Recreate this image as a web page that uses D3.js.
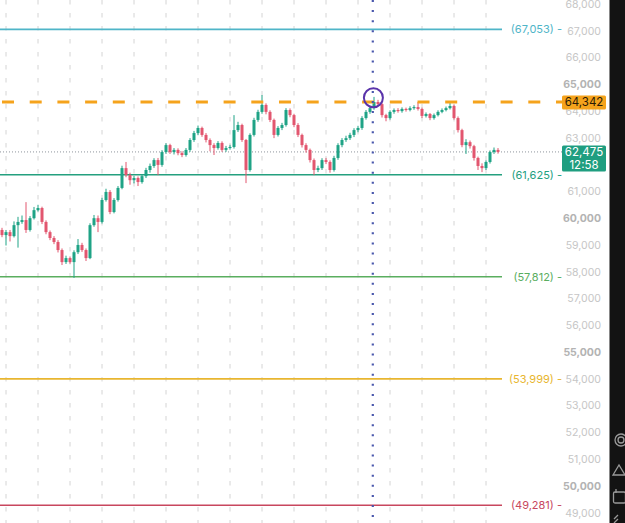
<!DOCTYPE html>
<html lang="en">
<head>
<meta charset="UTF-8">
<title>BTC price levels</title>
<script src="https://cdn.jsdelivr.net/npm/d3@7"></script>
<style>
  body { margin: 0; background: #fff; font-family: Inter, "Noto Sans", Arial, sans-serif; }
  svg { display: block; }
</style>
</head>
<body>
<svg width="625" height="523"></svg>
<script>
// candles (open of each candle = previous close)
var firstOpen = 59560;
var closes = [59370,59480,59330,59740,59860,59930,59560,60000,60300,60380,
  59860,59480,59260,59110,58810,58360,58510,58360,58730,59000,
  58810,58510,59740,60000,59860,60680,60980,60230,60680,61130,
  61870,61610,61420,61500,61350,61570,61800,61950,62170,61990,
  62470,62730,62470,62550,62430,62360,62550,62920,63180,63370,
  63110,62920,62730,62620,62810,62550,62620,62660,63290,63480,
  62920,61800,63110,63670,63970,64230,63970,63670,63110,63370,
  63480,64040,63850,63480,63110,62730,62550,62170,61800,61870,
  62170,62100,61800,62250,62730,62920,62990,63110,63290,63370,
  63740,63970,64110,64340,64260,63850,63740,63970,64040,64000,
  64080,64040,64110,64150,64080,63820,63890,63740,63850,63970,
  64040,64110,64190,63740,63290,62730,62840,62690,62250,61950,
  61870,62100,62470,62550,62475];
var highs = [59640,59560,59560,59880,60050,60100,60600,60080,60420,60500,
  60430,59920,59540,59330,59180,58870,58600,58570,58800,59220,
  59080,58870,59810,60120,60100,60760,61100,61050,60750,61200,
  61960,62100,61700,61580,61560,61640,61880,62040,62240,62250,
  62540,62800,62780,62620,62610,62500,62620,62990,63260,63460,
  63420,63180,62980,62800,62880,62870,62700,62740,63850,63600,
  63530,62960,63170,63750,64050,64600,64290,64030,63720,63440,
  63560,64110,64100,63900,63550,63160,62800,62600,62230,61960,
  62240,62250,62160,62330,62800,62990,63080,63190,63360,63450,
  63810,64040,64200,64530,64420,64310,63900,64030,64100,64110,
  64140,64130,64180,64220,64340,64130,63950,63930,63910,64030,
  64100,64170,64300,64240,63800,63340,62950,62900,62740,62300,
  62050,62160,62530,62640,62620];
var lows = [59290,58980,59130,59280,58900,59790,59450,59500,59950,60250,
  59780,59400,59180,59030,58720,58250,58290,58300,57770,58660,
  58740,58400,58470,59680,59480,59800,60620,60150,60180,60620,
  61080,61530,61250,61300,61200,61290,61500,61700,61880,61610,
  61920,62400,62400,62380,62350,62280,62300,62480,62850,63100,
  63040,62830,62500,62360,62560,62480,62480,62560,62600,63220,
  62850,61310,61740,63050,63600,63900,63880,63590,62990,63050,
  63290,63420,63770,63400,63030,62640,62450,62080,61610,61720,
  61800,62020,61700,61740,62180,62650,62850,62920,63030,63210,
  63300,63680,63900,64050,64180,63760,63620,63680,63900,63940,
  63940,63980,63990,64050,64020,63740,63760,63660,63680,63800,
  63920,63990,64060,63680,63200,62650,62400,62600,62150,61800,
  61720,61800,62040,62400,62410];

// horizontal levels
var levelPrices = [67053, 61625, 57812, 53999, 49281];
var levelColors = ["#4fb5c8", "#24a07f", "#5aae5f", "#e8b630", "#c8475e"];
var targetPrice = 64342;
var lastPrice = 62475;
var countdown = "12:58";
var markerIndex = 92.7;
var markerPrice = 64500;
var priceTicks = d3.range(49000, 68001, 1000);
var boldTicks = [50000, 55000, 60000, 65000];

var svg = d3.select("svg");
var fmt = d3.format(",");

var x = d3.scaleLinear().domain([0, closes.length - 1]).range([2, 498]);
var y = d3.scaleLinear().domain([68000, 49000]).range([4, 512.7]);

// dark toolbar strip at right
svg.append("rect").attr("x", 609.5).attr("y", 0).attr("width", 16).attr("height", 523).attr("fill", "#131313");
var icons = svg.append("g").attr("fill", "none").attr("stroke", "#9a9a9a").attr("stroke-width", 1.3);
icons.append("circle").attr("cx", 621).attr("cy", 440).attr("r", 6);
icons.append("circle").attr("cx", 621).attr("cy", 440).attr("r", 3);
icons.append("path").attr("d", "M613,475 L619,465 L625,475 Z");
icons.append("rect").attr("x", 613.5).attr("y", 492).attr("width", 12).attr("height", 11).attr("rx", 1.5);
icons.append("path").attr("d", "M616,489 v4");
icons.append("path").attr("d", "M614,519 l4,-4 M614,523 l4,-4");

// vertical time grid
var gridIdx = d3.range(1, closes.length, 8);
svg.append("g").selectAll("line").data(gridIdx).join("line")
  .attr("x1", d => x(d)).attr("x2", d => x(d))
  .attr("y1", 0).attr("y2", 523)
  .attr("stroke", "#d4d4d4").attr("stroke-width", 1)
  .attr("stroke-dasharray", "4.5,8.5");

// price axis
var axis = svg.append("g").attr("transform", "translate(601,0)")
  .call(d3.axisLeft(y).tickValues(priceTicks).tickSize(0).tickPadding(0).tickFormat(fmt));
axis.select(".domain").remove();
axis.selectAll("text")
  .attr("font-family", "Inter, 'Noto Sans', sans-serif")
  .attr("font-size", 10.5)
  .attr("fill", d => boldTicks.indexOf(d) >= 0 ? "#b3b3b3" : "#c6c6c6")
  .attr("font-weight", d => boldTicks.indexOf(d) >= 0 ? 700 : 400);

// level lines with labels
var lv = svg.append("g").selectAll("g").data(levelPrices).join("g");
lv.append("line")
  .attr("x1", 0).attr("x2", 502)
  .attr("y1", d => y(d)).attr("y2", d => y(d))
  .attr("stroke", (d, i) => levelColors[i]).attr("stroke-width", 1.6);
lv.append("text")
  .attr("x", 562).attr("y", d => y(d)).attr("dy", "0.35em")
  .attr("text-anchor", "end")
  .attr("font-size", 11).attr("fill", (d, i) => levelColors[i])
  .text(d => "(" + fmt(d) + ") -");

// last price dotted line
svg.append("line")
  .attr("x1", 0).attr("x2", 562).attr("y1", y(lastPrice)).attr("y2", y(lastPrice))
  .attr("stroke", "#8f949c").attr("stroke-width", 1).attr("stroke-dasharray", "1,2");

// candles
var candles = svg.append("g").selectAll("g").data(closes).join("g");
candles.each(function (c, i) {
  var o = i === 0 ? firstOpen : closes[i - 1];
  var col = c >= o ? "#1fa386" : "#e2566f";
  var g = d3.select(this);
  g.append("line")
    .attr("x1", x(i)).attr("x2", x(i))
    .attr("y1", y(highs[i])).attr("y2", y(lows[i]))
    .attr("stroke", col).attr("stroke-width", 1);
  var top = y(Math.max(o, c)), bot = y(Math.min(o, c));
  g.append("rect")
    .attr("x", x(i) - 1.5).attr("width", 3)
    .attr("y", top).attr("height", Math.max(1, bot - top))
    .attr("fill", col);
});

// target dashed line
svg.append("line")
  .attr("x1", 2).attr("x2", 562).attr("y1", y(targetPrice)).attr("y2", y(targetPrice))
  .attr("stroke", "#f5a31c").attr("stroke-width", 3).attr("stroke-dasharray", "12,15.7");

// vertical dotted marker line
svg.append("line")
  .attr("x1", x(markerIndex)).attr("x2", x(markerIndex)).attr("y1", 0).attr("y2", 523)
  .attr("stroke", "#4a58ad").attr("stroke-width", 2.2).attr("stroke-dasharray", "2,8.1");

svg.append("circle")
  .attr("cx", x(markerIndex) + 0.6).attr("cy", y(markerPrice)).attr("r", 9.5)
  .attr("fill", "none").attr("stroke", "#5a34aa").attr("stroke-width", 2);

// price badges
svg.append("rect").attr("x", 562).attr("y", y(targetPrice) - 6.5).attr("width", 44).attr("height", 14)
  .attr("rx", 1.5).attr("fill", "#f5a31c");
svg.append("text").attr("x", 584).attr("y", y(targetPrice) + 0.5).attr("dy", "0.35em")
  .attr("text-anchor", "middle").attr("font-size", 11.5).attr("fill", "#2a1a05").text(fmt(targetPrice));

svg.append("rect").attr("x", 562).attr("y", y(lastPrice) - 6.5).attr("width", 44).attr("height", 26)
  .attr("rx", 1.5).attr("fill", "#1f9e80");
svg.append("text").attr("x", 584).attr("y", y(lastPrice)).attr("dy", "0.35em")
  .attr("text-anchor", "middle").attr("font-size", 11.5).attr("fill", "#fff").text(fmt(lastPrice));
svg.append("text").attr("x", 584).attr("y", y(lastPrice) + 13).attr("dy", "0.35em")
  .attr("text-anchor", "middle").attr("font-size", 11.5).attr("fill", "#fff").text(countdown);
</script>
</body>
</html>
